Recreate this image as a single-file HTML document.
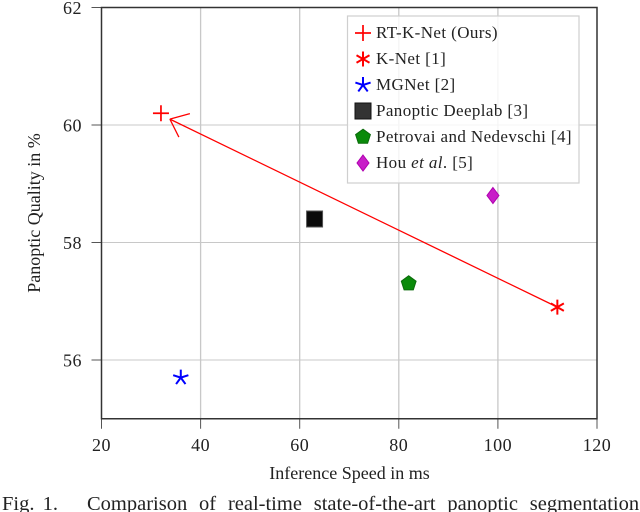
<!DOCTYPE html>
<html>
<head>
<meta charset="utf-8">
<style>
html,body{margin:0;padding:0;background:#fff;width:640px;height:512px;overflow:hidden}
svg{display:block}
text{font-family:"Liberation Serif",serif;fill:#222}
</style>
</head>
<body>
<svg id="chart" width="640" height="512" viewBox="0 0 640 512" xmlns="http://www.w3.org/2000/svg"></svg>
<script>
var xTicks = [20, 40, 60, 80, 100, 120];
var yTicks = [56, 58, 60, 62];
var methods = ["RT-K-Net (Ours)", "K-Net [1]", "MGNet [2]", "Panoptic Deeplab [3]", "Petrovai and Nedevschi [4]", "Hou et al. [5]"];
var speeds = [32, 112, 36, 63, 82, 99];
var qualities = [60.2, 56.9, 55.7, 58.4, 57.3, 58.8];
var arrowFrom = [112, 56.9];
var arrowTo = [33.8, 60.1];

var svg = document.getElementById('chart');
var NS = 'http://www.w3.org/2000/svg';
function sx(v){ return 101.5 + (v - 20) * 4.955; }
function sy(v){ return 7.5 + (62 - v) * 58.75; }
function mk(tag, attrs, parent){
  var el = document.createElementNS(NS, tag);
  for (var k in attrs) el.setAttribute(k, attrs[k]);
  (parent || svg).appendChild(el);
  return el;
}
function starLines(g, x, y, r, n, rot, color, w){
  for (var i = 0; i < n; i++){
    var a = rot + i * 2 * Math.PI / n;
    mk('line', {x1:x, y1:y, x2:x + r * Math.sin(a), y2:y - r * Math.cos(a), stroke:color, 'stroke-width':w}, g);
  }
}
function drawMarker(i, x, y, parent, legendStyle){
  var g = mk('g', {}, parent);
  if (i === 0){
    mk('line', {x1:x-8, y1:y, x2:x+8, y2:y, stroke:'#ff0000', 'stroke-width':1.7}, g);
    mk('line', {x1:x, y1:y-8, x2:x, y2:y+8, stroke:'#ff0000', 'stroke-width':1.7}, g);
  } else if (i === 1){
    starLines(g, x, y, 7.5, 6, 0, '#ff0000', 2);
  } else if (i === 2){
    starLines(g, x, y, 8, 5, 0, '#0000ff', 2);
  } else if (i === 3){
    mk('rect', {x:x-8, y:y-8, width:16, height:16, fill:legendStyle ? '#333' : '#0a0a0a', stroke:legendStyle ? '#111' : '#555', 'stroke-width':1}, g);
  } else if (i === 4){
    var p = [];
    for (var j = 0; j < 5; j++){
      var a = j * 2 * Math.PI / 5;
      p.push((x + 7.8 * Math.sin(a)).toFixed(1) + ',' + (y - 7.8 * Math.cos(a)).toFixed(1));
    }
    mk('polygon', {points:p.join(' '), fill:'#0a8a0a', stroke:'#0b6b0b', 'stroke-width':1}, g);
  } else {
    var d = (x) + ',' + (y-8) + ' ' + (x+6) + ',' + y + ' ' + x + ',' + (y+8) + ' ' + (x-6) + ',' + y;
    mk('polygon', {points:d, fill:'#c81ec8', stroke:'#b000b0', 'stroke-width':1}, g);
  }
  return g;
}

/* grid */
var xMin = 20, xMax = 120, yMin = 55, yMax = 62;
xTicks.forEach(function(t){
  if (t !== xMin && t !== xMax){
    var gl = mk('line', {x1:sx(t), y1:sy(yMin), x2:sx(t), y2:sy(yMax), stroke:'#c8c8c8', 'stroke-width':1.3});
    
    
  }
  var tk = mk('line', {x1:sx(t), y1:sy(yMin), x2:sx(t), y2:sy(yMin)+10, stroke:'#555', 'stroke-width':1});
  
  
  var lb = mk('text', {x:sx(t), y:451, 'text-anchor':'middle', 'font-size':18, 'letter-spacing':0.5});
  lb.textContent = t;
  
  
});
yTicks.forEach(function(t){
  if (t !== yMax){
    var gl = mk('line', {x1:sx(xMin), y1:sy(t), x2:sx(xMax), y2:sy(t), stroke:'#c8c8c8', 'stroke-width':1.1});
    
    
  }
  var tk = mk('line', {x1:sx(xMin)-10, y1:sy(t), x2:sx(xMin), y2:sy(t), stroke:'#555', 'stroke-width':1});
  
  
  var lb = mk('text', {x:82, y:sy(t)+6.5, 'text-anchor':'end', 'font-size':18, 'letter-spacing':0.5});
  lb.textContent = t;
  
  
});

/* axis frame */
var frame = mk('rect', {x:sx(xMin), y:sy(yMax), width:sx(xMax)-sx(xMin), height:sy(yMin)-sy(yMax), fill:'none', stroke:'#333', 'stroke-width':1.5});



/* improvement arrow */
var arrow = mk('g', {});


var ax = sx(arrowTo[0]), ay = sy(arrowTo[1]);
mk('line', {x1:sx(arrowFrom[0]), y1:sy(arrowFrom[1]), x2:ax, y2:ay, stroke:'#ff0000', 'stroke-width':1.3}, arrow);
mk('line', {x1:ax, y1:ay, x2:ax+20, y2:ay-5.5, stroke:'#ff0000', 'stroke-width':1.3}, arrow);
mk('line', {x1:ax, y1:ay, x2:ax+9, y2:ay+18, stroke:'#ff0000', 'stroke-width':1.3}, arrow);

/* data points */
methods.forEach(function(m, i){
  var g = drawMarker(i, sx(speeds[i]), sy(qualities[i]), svg, false);
  
  
});

/* legend */
var legend = mk('g', {});


mk('rect', {x:347.5, y:16, width:231.5, height:167, fill:'#fff', 'fill-opacity':0.82, stroke:'#cfcfcf', 'stroke-width':1.2}, legend);
var rowStart = 33, rowStep = 26;
methods.forEach(function(m, i){
  var y = rowStart + i * rowStep;
  var entry = mk('g', {}, legend);
  
  
  drawMarker(i, 363, y, entry, true);
  var t = mk('text', {x:376, y:y+5, 'font-size':17, 'letter-spacing':0.4}, entry);
  if (m.indexOf(' et al.') >= 0){
    var parts = m.split(' et al.');
    t.appendChild(document.createTextNode(parts[0] + ' '));
    var it = mk('tspan', {'font-style':'italic'}, t);
    it.textContent = 'et al';
    t.appendChild(document.createTextNode('.' + parts[1]));
  } else {
    t.textContent = m;
  }
});
</script>
<svg width="640" height="512" viewBox="0 0 640 512" style="position:absolute;left:0;top:0" xmlns="http://www.w3.org/2000/svg">
  <text x="349.5" y="479" text-anchor="middle" font-size="18">Inference Speed in ms</text>
  <text transform="translate(40,213) rotate(-90)" text-anchor="middle" font-size="18">Panoptic Quality in %</text>
  <text x="2" y="510" font-size="20.5" word-spacing="3">Fig. 1.</text>
  <text x="87" y="510" font-size="20.5" word-spacing="6.7">Comparison of real-time state-of-the-art panoptic segmentation</text>
</svg>
</body>
</html>
